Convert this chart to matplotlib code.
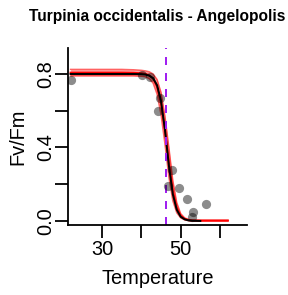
import matplotlib.pyplot as plt  # For plotting
import numpy as np  # For arrays

# Measured data points (temperature, Fv/Fm)
temp_obs = [22.2, 40.1, 42.2, 44.8, 44.3, 47.7, 46.9, 49.7, 51.5, 56.5, 53.2, 52.8]
fvfm_obs = [0.77, 0.795, 0.785, 0.67, 0.60, 0.28, 0.19, 0.18, 0.12, 0.09, 0.05, 0.02]

# Fitted curve
temp_fit = [22, 30, 35, 38, 40, 41, 42, 43, 44, 45, 46, 47, 48, 49, 50, 51, 52, 53, 55]
fvfm_fit = [0.80, 0.80, 0.80, 0.80, 0.799, 0.797, 0.791, 0.777, 0.739, 0.654, 0.498,
            0.302, 0.146, 0.061, 0.023, 0.009, 0.003, 0.001, 0.0]

# Bootstrap band (red)
temp_band = [22, 30, 35, 38, 40, 41, 42, 43, 44, 45, 46, 47, 48, 49, 50, 51, 52, 53, 55, 62]
fvfm_upper = [0.825, 0.825, 0.825, 0.823, 0.82, 0.817, 0.812, 0.80, 0.77, 0.70, 0.57,
              0.40, 0.22, 0.10, 0.04, 0.017, 0.008, 0.005, 0.004, 0.004]
fvfm_lower = [0.79, 0.79, 0.79, 0.79, 0.788, 0.785, 0.775, 0.75, 0.69, 0.58, 0.42,
              0.24, 0.11, 0.045, 0.017, 0.006, 0.002, 0.0, 0.0, 0.0]

T50 = 46.3  # Dashed purple line

plt.rcParams['font.family'] = ['Liberation Sans', 'DejaVu Sans']

fig = plt.figure(figsize=(288 / 72, 295 / 72), dpi=72)
ax = fig.add_axes([68 / 288, 1 - 225 / 295, 179 / 288, 177 / 295])

band_mid = (np.array(fvfm_upper) + np.array(fvfm_lower)) / 2
ax.fill_between(temp_band, fvfm_lower, fvfm_upper, color='red', alpha=0.35, lw=0)
ax.plot(temp_band, fvfm_upper, color='red', lw=1.5, alpha=0.6)
ax.plot(temp_band, fvfm_lower, color='red', lw=1.5, alpha=0.6)
ax.plot(temp_band, band_mid, color='red', lw=2)
ax.plot(temp_fit, fvfm_fit, color='black', lw=2)
ax.scatter(temp_obs, fvfm_obs, s=85, color='black', alpha=0.45, lw=0, zorder=3)
ax.axvline(T50, color='#A020F0', lw=2, dashes=(4, 4))

ax.set_xlim(21.35, 66.87)
ax.set_ylim(-0.022, 0.9415)
ax.spines['top'].set_visible(False)
ax.spines['right'].set_visible(False)
for s in ['left', 'bottom']:
    ax.spines[s].set_linewidth(1.8)

ax.set_xticks([30, 40, 50, 60])
ax.set_xticklabels(['30', '', '50', ''])
ax.set_yticks([0.0, 0.2, 0.4, 0.6, 0.8])
ax.set_yticklabels(['0.0', '', '0.4', '', '0.8'], rotation=90, va='center')
ax.tick_params(axis='both', length=13, width=1.8, labelsize=20, direction='out')
ax.tick_params(axis='x', pad=2)
ax.tick_params(axis='y', pad=0)

ax.set_xlabel('Temperature', fontsize=20, labelpad=10)
ax.set_ylabel('Fv/Fm', fontsize=20, labelpad=9)
ax.set_title('Turpinia occidentalis - Angelopolis', fontsize=15.5, fontweight='bold', pad=27)

fig.savefig('out.png', dpi=72)
